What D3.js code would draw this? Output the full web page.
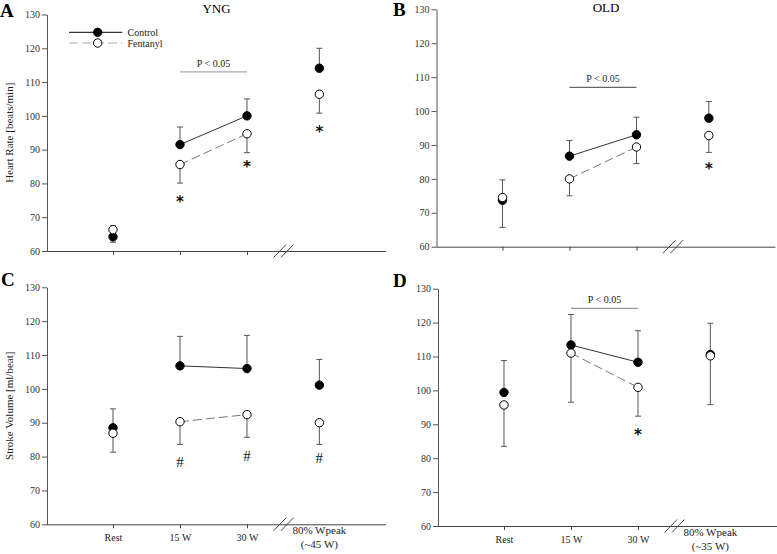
<!DOCTYPE html>
<html><head><meta charset="utf-8">
<script src="https://cdn.jsdelivr.net/npm/d3@7"></script>
<style>body{margin:0;background:#fff}svg{display:block}</style>
</head><body><svg id="c" width="777" height="554"></svg>
<script>
// ---------- data ----------
const categories = ["Rest", "15 W", "30 W", "80% Wpeak"];
const categoryPos = [1, 2, 3, 4.08];
const yTicks = [60, 70, 80, 90, 100, 110, 120, 130];
const peakLabelYng = ["80% Wpeak", "(~45 W)"];
const peakLabelOld = ["80% Wpeak", "(~35 W)"];

// Heart rate, young
const hrYngControl = [64.2, 91.5, 100.0, 114.1];
const hrYngControlErr = [-1.6, 5.2, 5.0, 5.9];
const hrYngFentanyl = [66.3, 85.6, 94.7, 106.4];
const hrYngFentanylErr = [1.2, -5.5, -5.6, -5.6];
const hrYngStarCats = [1, 2, 3];
const hrYngStarVals = [75.6, 86.0, 96.3];

// Heart rate, old
const hrOldControl = [73.7, 86.7, 93.0, 97.9];
const hrOldControlErr = [-8.0, 4.6, 5.2, 4.9];
const hrOldFentanyl = [74.5, 80.0, 89.4, 92.8];
const hrOldFentanylErr = [5.2, -5.0, -4.9, -5.0];
const hrOldStarCats = [3];
const hrOldStarVals = [84.1];

// Stroke volume, young
const svYngControl = [88.5, 106.8, 106.0, 101.1];
const svYngControlErr = [5.6, 8.7, 9.8, 7.6];
const svYngFentanyl = [86.9, 90.3, 92.4, 90.0];
const svYngFentanylErr = [-5.6, -6.7, -6.7, -6.4];
const svYngHashCats = [1, 2, 3];
const svYngHashVals = [78.3, 80.2, 79.6];

// Stroke volume, old
const svOldControl = [99.4, 113.4, 108.3, 110.6];
const svOldControlErr = [9.4, 9.0, 9.3, 9.2];
const svOldFentanyl = [95.7, 111.0, 100.9, 110.2];
const svOldFentanylErr = [-12.2, -14.5, -8.5, -14.4];
const svOldStarCats = [2];
const svOldStarVals = [88.1];

const sigLabel = "P < 0.05";
const legendLabels = ["Control", "Fentanyl"];

// ---------- layout ----------
const panels = [
  {letter: "A", title: "YNG", axisX: 47, yTop: 14.5, yBot: 251, lx: 0, ly: 17, ty: 12.5,
   ctrl: hrYngControl, ctrlErr: hrYngControlErr, fen: hrYngFentanyl, fenErr: hrYngFentanylErr,
   markCats: hrYngStarCats, markVals: hrYngStarVals, mark: "*",
   sig: 113, sigColor: "#aaa", ylabel: "Heart Rate [beats/min]", xlabels: false, legend: true},
  {letter: "B", title: "OLD", axisX: 436.5, yTop: 9.3, yBot: 246.7, lx: 393, ly: 16, ty: 12,
   ctrl: hrOldControl, ctrlErr: hrOldControlErr, fen: hrOldFentanyl, fenErr: hrOldFentanylErr,
   markCats: hrOldStarCats, markVals: hrOldStarVals, mark: "*",
   sig: 107, sigColor: "#666", ylabel: null, xlabels: false, legend: false},
  {letter: "C", title: null, axisX: 47, yTop: 287.3, yBot: 524.3, lx: 1, ly: 286,
   ctrl: svYngControl, ctrlErr: svYngControlErr, fen: svYngFentanyl, fenErr: svYngFentanylErr,
   markCats: svYngHashCats, markVals: svYngHashVals, mark: "#",
   sig: null, ylabel: "Stroke Volume [ml/beat]", xlabels: true, peak: peakLabelYng, legend: false},
  {letter: "D", title: null, axisX: 438, yTop: 288.7, yBot: 526, lx: 393, ly: 287,
   ctrl: svOldControl, ctrlErr: svOldControlErr, fen: svOldFentanyl, fenErr: svOldFentanylErr,
   markCats: svOldStarCats, markVals: svOldStarVals, mark: "*",
   sig: 124.2, sigColor: "#999", ylabel: null, xlabels: true, peak: peakLabelOld, legend: false}
];

const FONT = "'Liberation Serif','Times New Roman',serif";
const svg = d3.select("#c");
const R = 4.2;

panels.forEach(p => {
  const g = svg.append("g");
  const x = d3.scaleLinear().domain([0, 5.06]).range([p.axisX - 1, p.axisX + 338]);
  const y = d3.scaleLinear().domain([60, 130]).range([p.yBot, p.yTop]);

  // y axis
  const ya = g.append("g").attr("transform", `translate(${p.axisX},0)`)
    .call(d3.axisLeft(y).tickValues(yTicks).tickSize(5).tickSizeOuter(0).tickPadding(2));
  ya.selectAll("path,line").attr("stroke", "#555");
  ya.selectAll("text").attr("font-family", FONT).attr("font-size", 10).attr("fill", "#333");

  // x axis
  const xa = g.append("g").attr("transform", `translate(0,${p.yBot})`)
    .call(d3.axisBottom(x).tickValues(categoryPos.slice(0, 3))
      .tickFormat((d, i) => p.xlabels ? categories[i] : "")
      .tickSize(4).tickSizeOuter(0).tickPadding(6));
  xa.select(".domain").attr("d", `M${p.axisX},0.5H${p.axisX + 339}`);
  xa.selectAll("path,line").attr("stroke", "#444");
  xa.selectAll("text").attr("font-family", FONT).attr("font-size", 10).attr("fill", "#222");

  if (p.xlabels) {
    const t = g.append("text").attr("x", x(categoryPos[3])).attr("y", p.yBot + 10)
      .attr("text-anchor", "middle").attr("font-family", FONT).attr("font-size", 11).attr("fill", "#222");
    p.peak.forEach((s, i) => t.append("tspan").attr("x", x(categoryPos[3])).attr("dy", i === 0 ? 0 : 14).text(s));
  }

  // axis break marks
  [3.49, 3.60].forEach(b => {
    g.append("line").attr("x1", x(b) - 6.3).attr("y1", p.yBot + 6.5)
      .attr("x2", x(b) + 6.3).attr("y2", p.yBot - 6.5)
      .attr("stroke", "#444").attr("stroke-width", 1);
  });

  // titles
  g.append("text").attr("x", p.lx).attr("y", p.ly).attr("font-family", FONT)
    .attr("font-weight", "bold").attr("font-size", 19).text(p.letter);
  if (p.title) {
    g.append("text").attr("x", p.axisX + 169.5).attr("y", p.ty).attr("text-anchor", "middle")
      .attr("font-family", FONT).attr("font-size", 13).text(p.title);
  }
  if (p.ylabel) {
    g.append("text").attr("transform", `translate(13,${(p.yTop + p.yBot) / 2}) rotate(-90)`)
      .attr("text-anchor", "middle").attr("font-family", FONT).attr("font-size", 11).attr("fill", "#222")
      .text(p.ylabel);
  }

  // significance bar
  if (p.sig !== null) {
    g.append("line").attr("x1", x(categoryPos[1])).attr("x2", x(categoryPos[2]))
      .attr("y1", y(p.sig)).attr("y2", y(p.sig)).attr("stroke", p.sigColor).attr("stroke-width", 1.2);
    g.append("text").attr("x", (x(categoryPos[1]) + x(categoryPos[2])) / 2).attr("y", y(p.sig) - 5)
      .attr("text-anchor", "middle").attr("font-family", FONT).attr("font-size", 10).attr("fill", "#222")
      .text(sigLabel);
  }

  // error bars
  const series = [
    {vals: p.ctrl, err: p.ctrlErr, fill: "#000"},
    {vals: p.fen, err: p.fenErr, fill: "#fff"}
  ];
  series.forEach(s => {
    s.vals.forEach((v, i) => {
      const cx = x(categoryPos[i]);
      const yEnd = y(v + s.err[i]);
      g.append("line").attr("x1", cx).attr("x2", cx).attr("y1", y(v)).attr("y2", yEnd)
        .attr("stroke", "#555").attr("stroke-width", 1);
      g.append("line").attr("x1", cx - 3).attr("x2", cx + 3).attr("y1", yEnd).attr("y2", yEnd)
        .attr("stroke", "#555").attr("stroke-width", 1);
    });
  });

  // connecting lines (15 W – 30 W)
  const line = d3.line().x(d => x(d[0])).y(d => y(d[1]));
  g.append("path").attr("d", line([[categoryPos[1], p.ctrl[1]], [categoryPos[2], p.ctrl[2]]]))
    .attr("stroke", "#333").attr("stroke-width", 1).attr("fill", "none");
  g.append("path").attr("d", line([[categoryPos[1], p.fen[1]], [categoryPos[2], p.fen[2]]]))
    .attr("stroke", "#777").attr("stroke-width", 1).attr("stroke-dasharray", "9,4").attr("fill", "none");

  // points (control first, fentanyl on top)
  series.forEach(s => {
    g.selectAll(null).data(s.vals).enter().append("circle")
      .attr("cx", (d, i) => x(categoryPos[i])).attr("cy", d => y(d)).attr("r", R)
      .attr("fill", s.fill).attr("stroke", "#000").attr("stroke-width", 1);
  });

  // significance marks
  p.markCats.forEach((c, i) => {
    const isStar = p.mark === "*";
    g.append("text").attr("x", x(categoryPos[c])).attr("y", y(p.markVals[i]) + (isStar ? 9 : 5))
      .attr("text-anchor", "middle").attr("font-family", isStar ? "'DejaVu Sans',sans-serif" : FONT)
      .attr("font-weight", isStar ? "bold" : "normal")
      .attr("font-size", 15).attr("fill", "#111").text(p.mark);
  });

  // legend
  if (p.legend) {
    const lx1 = 69, lx2 = 122, mx = 97.7;
    [[32.3, "#000", "#000", null], [43, "#fff", "#aaa", "9,4"]].forEach((L, i) => {
      const ln = g.append("line").attr("x1", lx1).attr("x2", lx2).attr("y1", L[0]).attr("y2", L[0])
        .attr("stroke", L[2]).attr("stroke-width", 1);
      if (L[3]) ln.attr("stroke-dasharray", L[3]);
      g.append("circle").attr("cx", mx).attr("cy", L[0]).attr("r", R).attr("fill", L[1])
        .attr("stroke", "#000");
      g.append("text").attr("x", 127.5).attr("y", L[0] + 3.5).attr("font-family", FONT)
        .attr("font-size", 10).attr("fill", "#222").text(legendLabels[i]);
    });
  }
});
</script>
</body></html>
